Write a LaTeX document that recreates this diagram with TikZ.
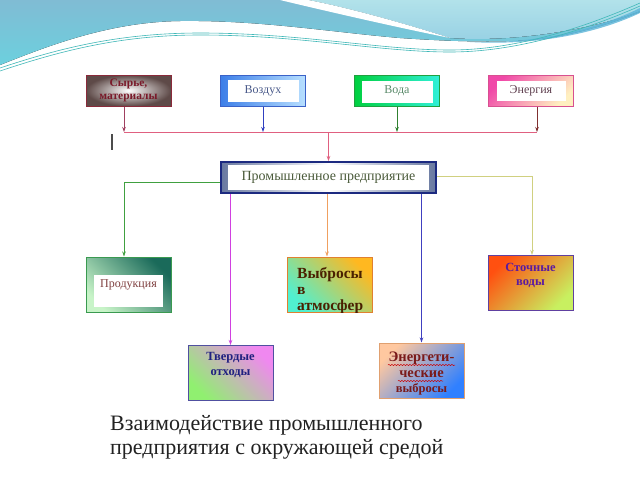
\documentclass[tikz,border=0pt]{standalone}
\usepackage{fontspec}
\setmainfont{Liberation Serif}
\usetikzlibrary{arrows.meta,decorations.pathmorphing,calc}
\newcommand\fz[2]{\fontsize{#1pt}{#2pt}\selectfont}
\definecolor{hdrA}{HTML}{80BCD4}
\definecolor{hdrB}{HTML}{B2E2EA}
\definecolor{hdrB2}{HTML}{96D0E4}
\definecolor{hdrC}{HTML}{6CD0DE}
\definecolor{hdrD}{HTML}{5AB4D8}
\definecolor{hdrLine}{HTML}{40B8B8}
\definecolor{syrB}{HTML}{8A2A3A}
\definecolor{syrC}{HTML}{5E4A48}
\definecolor{syrT}{HTML}{7A1A2A}
\definecolor{airB}{HTML}{3A62C8}
\definecolor{airL}{HTML}{3C7EE8}
\definecolor{airR}{HTML}{B8E0FF}
\definecolor{airT}{HTML}{4A5A8A}
\definecolor{watB}{HTML}{20A040}
\definecolor{watL}{HTML}{00D040}
\definecolor{watR}{HTML}{30F0D8}
\definecolor{watT}{HTML}{5A8A6A}
\definecolor{enB}{HTML}{D85090}
\definecolor{enP}{HTML}{F048A8}
\definecolor{enC}{HTML}{FFF0C0}
\definecolor{enT}{HTML}{604050}
\definecolor{midB}{HTML}{1C2A80}
\definecolor{midG}{HTML}{6878A0}
\definecolor{midT}{HTML}{4A5A3A}
\definecolor{prodB}{HTML}{3A9A50}
\definecolor{prodD}{HTML}{1A6A5A}
\definecolor{prodL}{HTML}{C8F4C8}
\definecolor{prodT}{HTML}{804040}
\definecolor{tvB}{HTML}{5050A0}
\definecolor{tvP}{HTML}{F088F0}
\definecolor{tvG}{HTML}{90F070}
\definecolor{tvT}{HTML}{202080}
\definecolor{vyB}{HTML}{E08030}
\definecolor{vyO}{HTML}{FFB820}
\definecolor{vyY}{HTML}{F8D030}
\definecolor{vyC}{HTML}{50F0D0}
\definecolor{vyT}{HTML}{4A2000}
\definecolor{stB}{HTML}{6040A0}
\definecolor{stR}{HTML}{FF5010}
\definecolor{stM}{HTML}{FF7A18}
\definecolor{stG}{HTML}{C8F060}
\definecolor{stT}{HTML}{5A1AA0}
\definecolor{evB}{HTML}{E0A070}
\definecolor{evP}{HTML}{FFC8A0}
\definecolor{evBl}{HTML}{3080FF}
\definecolor{evT}{HTML}{7A1A1A}
\definecolor{cSyr}{HTML}{A04060}
\definecolor{cAir}{HTML}{3040C0}
\definecolor{cWat}{HTML}{308030}
\definecolor{cEn}{HTML}{803030}
\definecolor{cBus}{HTML}{E06080}
\definecolor{cProd}{HTML}{40A040}
\definecolor{cSt}{HTML}{D0D080}
\definecolor{cTv}{HTML}{D040E0}
\definecolor{cVyb}{HTML}{F0A060}
\definecolor{cEnv}{HTML}{4040C0}
\definecolor{capT}{HTML}{222222}
\begin{document}
\begin{tikzpicture}[x=1pt,y=-1pt,
  box/.style={draw, line width=1pt, minimum width=85pt, minimum height=31pt, inner sep=1pt, align=center},
  bigbox/.style={box, minimum height=55pt},
  innerw/.style n args={4}{path picture={\fill[white] ($(path picture bounding box.north west)+(#1pt,-#2pt)$) rectangle ($(path picture bounding box.south east)+(-#3pt,#4pt)$);}},
  arr/.style={-{Stealth[length=5pt,width=3.5pt]}, line width=0.8pt},
  wavy/.style={red!80!black, line width=0.5pt, decorate, decoration={snake, amplitude=0.6pt, segment length=3pt}},
  txt/.style={align=center, inner sep=0pt}]
\useasboundingbox (0,0) rectangle (640,480);
\fill[white] (0,0) rectangle (640,480);
% header wave
\fill[top color=hdrA, bottom color=hdrC] (0,0) -- (640,0) -- (640,12) .. controls (625,18) and (600,28) .. (560,36) .. controls (520,44) and (460,42) .. (400,38) .. controls (330,32) and (260,20) .. (180,21) .. controls (110,22) and (50,45) .. (0,65) -- cycle;
\fill[top color=hdrB, bottom color=hdrB2] (308,0) .. controls (345,7) and (400,22) .. (450,38) .. controls (520,43) and (600,27) .. (640,11) -- (640,0) -- cycle;
\fill[hdrD, opacity=0.8] (470,42) .. controls (540,44) and (600,28) .. (640,8) -- (640,13) .. controls (600,32) and (540,46) .. (470,42) -- cycle;
\fill[white] (280,0) .. controls (330,12) and (400,28) .. (450,38) .. controls (400,22) and (345,7) .. (308,0) -- cycle;
\draw[hdrLine, line width=0.6pt] (0,68) .. controls (60,48) and (120,33) .. (200,33) .. controls (300,33) and (380,50) .. (450,50) .. controls (520,50) and (590,25) .. (640,3);
\draw[hdrLine, line width=0.6pt] (0,71) .. controls (60,51) and (120,35) .. (200,35) .. controls (300,35) and (380,52) .. (450,52) .. controls (520,52) and (590,28) .. (640,6);
% top boxes
\node[box, draw=syrB, inner color=white, outer color=syrC, text=syrT, font=\bfseries\fz{11.5}{13.5}] (syr) at (128.5,90.5) {Сырье,\\материалы};
\node[box, draw=airB, left color=airL, right color=airR, innerw={7}{5}{7}{4}, text=airT, font=\fz{12}{14}] (air) at (263,90.5) {Воздух};
\node[box, draw=watB, left color=watL, right color=watR, innerw={7}{5}{7}{4}, text=watT, font=\fz{12}{14}] (wat) at (397,91) {Вода};
\node[box, draw=enB, top color=enP, bottom color=enC, shading angle=45, innerw={8}{6}{8}{5}, text=enT, font=\fz{12}{14}] (en) at (531,90.5) {Энергия};
% middle box
\node[box, line width=2pt, draw=midB, minimum width=215pt, left color=midG, right color=midG, middle color=white, innerw={7}{3}{7}{3}, text=midT, font=\fz{14}{16}] (mid) at (328.5,177.5) {Промышленное предприятие};
% bottom boxes
\node[bigbox, draw=prodB, top color=prodD, bottom color=prodL, shading angle=-45, innerw={8}{18}{8}{5}, text=prodT, font=\fz{12}{14}] (prod) at (128.5,284.5) {Продукция};
\node[bigbox, draw=tvB, top color=tvP, middle color=tvG, bottom color=tvG, shading angle=-45] (tv) at (230.5,373) {};
\node[txt, text=tvT, font=\bfseries\fz{12.5}{15.5}] (tvtext) at ([yshift=8pt]tv.center) {Твердые\\отходы};
\node[bigbox, draw=vyB, top color=vyO, middle color=vyY, bottom color=vyC, shading angle=-45] (vyb) at (330,284.5) {};
\begin{scope}
\clip (vyb.north west) rectangle (vyb.south east);
\node[anchor=north west, align=left, inner sep=0pt, text=vyT, font=\bfseries\fz{15.5}{16}] (vybtext) at (297,267.5) {Выбросы\\в\\атмосфер};
\end{scope}
\node[bigbox, draw=stB, top color=stR, middle color=stM, bottom color=stG, shading angle=45] (st) at (530.5,283) {};
\node[txt, text=stT, font=\bfseries\fz{12.5}{14}] (sttext) at ([yshift=8pt]st.center) {Сточные\\воды};
\node[bigbox, draw=evB, top color=evP, middle color=evP, bottom color=evBl, shading angle=45] (env) at (421.5,370.5) {};
\node[anchor=north, txt, text=evT, font=\bfseries\fz{14.5}{15.5}] (envtext) at (421.5,352) {Энергети-\\ческие\\{\fz{12.5}{14}выбросы}};
\draw[wavy] (388,365) -- (455,365);
\draw[wavy] (398,381) -- (443,381);
% connectors top
\coordinate (bus) at (0,132);
\draw[arr, draw=cSyr] ([xshift=-4.5pt]syr.south) -- ([xshift=-4.5pt]syr.south |- bus);
\draw[arr, draw=cAir] (air.south) -- (air.south |- bus);
\draw[arr, draw=cWat] (wat.south) -- (wat.south |- bus);
\draw[arr, draw=cEn] ([xshift=6pt]en.south) -- ([xshift=6pt]en.south |- bus);
\draw[line width=0.8pt, draw=cBus] ([xshift=-4.5pt]syr.south |- bus) -- ([xshift=6pt]en.south |- bus);
\draw[arr, draw=cBus] (mid.north |- bus) -- (mid.north);
\draw[line width=1.2pt, gray!60!black] (112,134) -- (112,150);
% connectors bottom
\draw[arr, draw=cProd] ([yshift=-4.5pt]mid.west) -| ([xshift=-4.5pt]prod.north);
\draw[arr, draw=cSt] ([yshift=1.5pt]mid.east) -| ([xshift=1.5pt]st.north);
\draw[arr, draw=cTv] (mid.south -| tv.north) -- (tv.north);
\draw[arr, draw=cVyb] ([xshift=-1.5pt]mid.south) -- ([xshift=-1.5pt]mid.south |- vyb.north);
\draw[arr, draw=cEnv] (mid.south -| env.north) -- (env.north);
% caption
\node[anchor=north west, align=left, inner sep=0pt, text=capT, font=\fz{22}{24}] (cap) at (110,415) {Взаимодействие промышленного\\предприятия с окружающей средой};
\end{tikzpicture}
\end{document}
